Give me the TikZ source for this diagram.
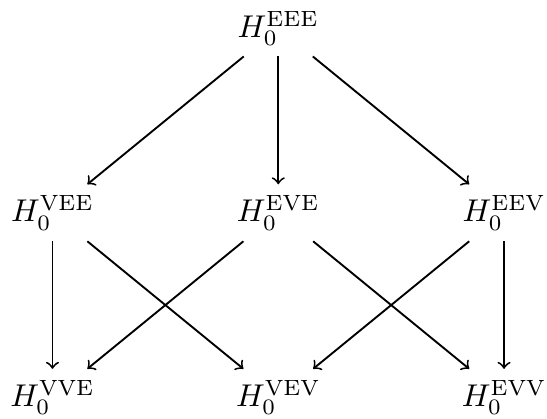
\documentclass[tikz,border=0pt]{standalone}
\usepackage{amsmath}

\begin{document}
\begin{tikzpicture}[node distance=2.06cm, auto]
            \node (eee) {$H_0^{\text{EEE}}$};
            \node [below of=eee] (eve) {$H_0^{\text{EVE}}$};
            \node [left of=eve, node distance=2.52cm] (vee) {$H_0^{\text{VEE}}$};
            \node [right of=eve, node distance=2.52cm] (eev) {$H_0^{\text{EEV}}$};
            \node [below of=vee] (vve) {$H_0^{\text{VVE}}$};
            \node [below of=eve] (vev) {$H_0^{\text{VEV}}$};
            \node [below of=eev] (evv) {$H_0^{\text{EVV}}$};

            \draw [->, semithick] (eee) -- (vee);
            \draw [->, semithick] (eee) -- (eve);
            \draw [->, semithick] (eee) -- (eev);
            \draw [->, semithick] (vee) -- (vve);
            \draw [->, semithick] (vee) -- (vev);
            \draw [->, semithick] (eve) -- (vve);
            \draw [->, semithick] (eve) -- (evv);
            \draw [->, semithick] (eev) -- (vev);
            \draw [->, semithick] (eev) -- (evv);

            \pgfresetboundingbox
            \useasboundingbox (vee.west |- eee.north) rectangle ([xshift=-3.3pt, yshift=2.3pt]evv.south east);
        \end{tikzpicture}
\end{document}
